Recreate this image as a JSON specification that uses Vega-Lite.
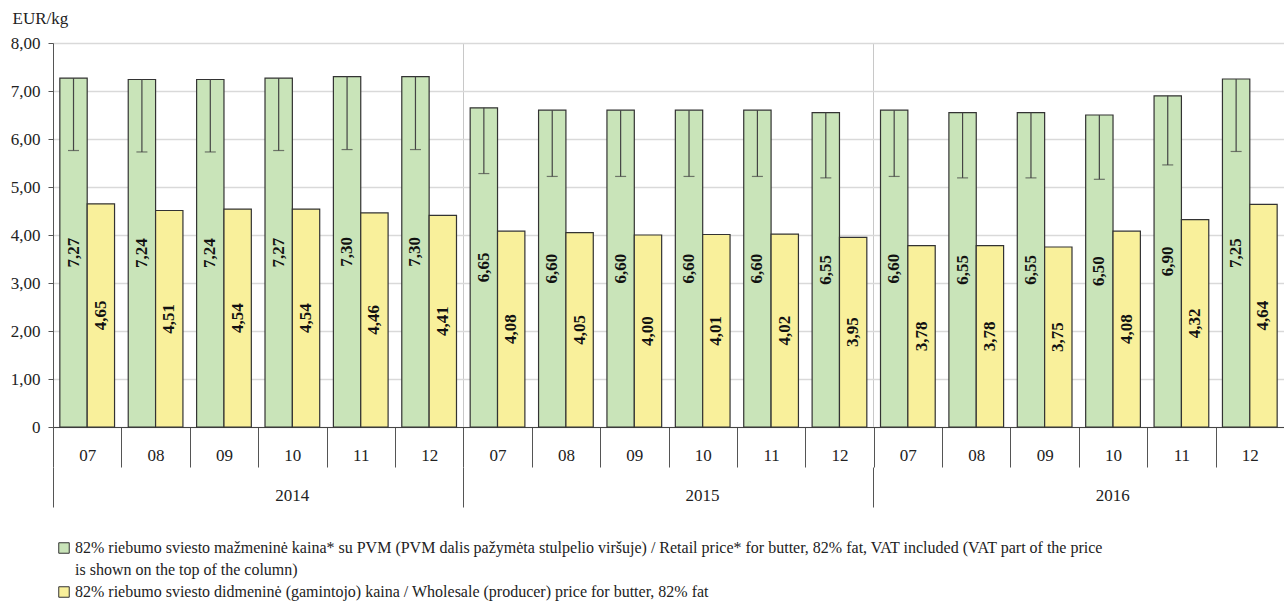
{
  "$schema": "https://vega.github.io/schema/vega-lite/v6.json",
  "width": 1231,
  "height": 384,
  "autosize": {"type": "none"},
  "padding": {"left": 53, "top": 43, "right": 0, "bottom": 177},
  "background": "white",
  "config": {
    "font": "Liberation Serif",
    "view": {"stroke": null},
    "locale": {"number": {"decimal": ",", "thousands": " ", "grouping": [3], "currency": ["", " €"]}}
  },
  "datasets": {
    "bars": [
      {"year": "2014", "period": "2014-07", "series": "retail", "price": 7.27},
      {"year": "2014", "period": "2014-08", "series": "retail", "price": 7.24},
      {"year": "2014", "period": "2014-09", "series": "retail", "price": 7.24},
      {"year": "2014", "period": "2014-10", "series": "retail", "price": 7.27},
      {"year": "2014", "period": "2014-11", "series": "retail", "price": 7.30},
      {"year": "2014", "period": "2014-12", "series": "retail", "price": 7.30},
      {"year": "2015", "period": "2015-07", "series": "retail", "price": 6.65},
      {"year": "2015", "period": "2015-08", "series": "retail", "price": 6.60},
      {"year": "2015", "period": "2015-09", "series": "retail", "price": 6.60},
      {"year": "2015", "period": "2015-10", "series": "retail", "price": 6.60},
      {"year": "2015", "period": "2015-11", "series": "retail", "price": 6.60},
      {"year": "2015", "period": "2015-12", "series": "retail", "price": 6.55},
      {"year": "2016", "period": "2016-07", "series": "retail", "price": 6.60},
      {"year": "2016", "period": "2016-08", "series": "retail", "price": 6.55},
      {"year": "2016", "period": "2016-09", "series": "retail", "price": 6.55},
      {"year": "2016", "period": "2016-10", "series": "retail", "price": 6.50},
      {"year": "2016", "period": "2016-11", "series": "retail", "price": 6.90},
      {"year": "2016", "period": "2016-12", "series": "retail", "price": 7.25},
      {"year": "2014", "period": "2014-07", "series": "wholesale", "price": 4.65},
      {"year": "2014", "period": "2014-08", "series": "wholesale", "price": 4.51},
      {"year": "2014", "period": "2014-09", "series": "wholesale", "price": 4.54},
      {"year": "2014", "period": "2014-10", "series": "wholesale", "price": 4.54},
      {"year": "2014", "period": "2014-11", "series": "wholesale", "price": 4.46},
      {"year": "2014", "period": "2014-12", "series": "wholesale", "price": 4.41},
      {"year": "2015", "period": "2015-07", "series": "wholesale", "price": 4.08},
      {"year": "2015", "period": "2015-08", "series": "wholesale", "price": 4.05},
      {"year": "2015", "period": "2015-09", "series": "wholesale", "price": 4.00},
      {"year": "2015", "period": "2015-10", "series": "wholesale", "price": 4.01},
      {"year": "2015", "period": "2015-11", "series": "wholesale", "price": 4.02},
      {"year": "2015", "period": "2015-12", "series": "wholesale", "price": 3.95},
      {"year": "2016", "period": "2016-07", "series": "wholesale", "price": 3.78},
      {"year": "2016", "period": "2016-08", "series": "wholesale", "price": 3.78},
      {"year": "2016", "period": "2016-09", "series": "wholesale", "price": 3.75},
      {"year": "2016", "period": "2016-10", "series": "wholesale", "price": 4.08},
      {"year": "2016", "period": "2016-11", "series": "wholesale", "price": 4.32},
      {"year": "2016", "period": "2016-12", "series": "wholesale", "price": 4.64}
    ],
    "vat": [
      {"period": "2014-07", "series": "retail", "top": 7.27, "low": 5.76},
      {"period": "2014-08", "series": "retail", "top": 7.24, "low": 5.73},
      {"period": "2014-09", "series": "retail", "top": 7.24, "low": 5.73},
      {"period": "2014-10", "series": "retail", "top": 7.27, "low": 5.76},
      {"period": "2014-11", "series": "retail", "top": 7.30, "low": 5.78},
      {"period": "2014-12", "series": "retail", "top": 7.30, "low": 5.78},
      {"period": "2015-07", "series": "retail", "top": 6.65, "low": 5.28},
      {"period": "2015-08", "series": "retail", "top": 6.60, "low": 5.22},
      {"period": "2015-09", "series": "retail", "top": 6.60, "low": 5.22},
      {"period": "2015-10", "series": "retail", "top": 6.60, "low": 5.22},
      {"period": "2015-11", "series": "retail", "top": 6.60, "low": 5.22},
      {"period": "2015-12", "series": "retail", "top": 6.55, "low": 5.19},
      {"period": "2016-07", "series": "retail", "top": 6.60, "low": 5.22},
      {"period": "2016-08", "series": "retail", "top": 6.55, "low": 5.19},
      {"period": "2016-09", "series": "retail", "top": 6.55, "low": 5.19},
      {"period": "2016-10", "series": "retail", "top": 6.50, "low": 5.16},
      {"period": "2016-11", "series": "retail", "top": 6.90, "low": 5.46},
      {"period": "2016-12", "series": "retail", "top": 7.25, "low": 5.74}
    ]
  },
  "layer": [
    {
      "data": {"name": "bars"},
      "mark": {"type": "bar", "stroke": "#333333", "strokeWidth": 1.2},
      "encoding": {
        "x": {
          "field": "period", "type": "nominal",
          "scale": {"paddingInner": 0, "paddingOuter": 0},
          "axis": {
            "orient": "bottom", "title": null, "labelAngle": 0,
            "labelExpr": "slice(datum.label + '', 5)",
            "tickBand": "extent", "tickSize": 40, "tickColor": "#555555", "tickWidth": 1,
            "domainColor": "#444444", "domainWidth": 1,
            "labelFont": "Liberation Serif", "labelFontSize": 17, "labelColor": "#222222",
            "labelBaseline": "middle", "labelPadding": -12, "grid": false
          }
        },
        "xOffset": {
          "field": "series", "type": "nominal",
          "scale": {"domain": ["retail", "wholesale"], "paddingOuter": 0.25, "paddingInner": 0}
        },
        "y": {
          "field": "price", "type": "quantitative", "stack": null,
          "scale": {"domain": [0, 8], "nice": false, "zero": true},
          "axis": {
            "title": "EUR/kg", "titleAngle": 0, "titleAlign": "left", "titleBaseline": "alphabetic",
            "titleX": -41, "titleY": -20, "titleFont": "Liberation Serif", "titleFontSize": 17, "titleFontWeight": "normal", "titleColor": "#222222",
            "values": [0, 1, 2, 3, 4, 5, 6, 7, 8], "format": ".2f",
            "labelExpr": "datum.value == 0 ? '0' : datum.label",
            "labelFont": "Liberation Serif", "labelFontSize": 17, "labelColor": "#222222", "labelPadding": 8,
            "tickSize": 5, "tickColor": "#555555", "domainColor": "#555555",
            "grid": true, "gridColor": "#d9d9d9", "gridWidth": 1.5
          }
        },
        "color": {
          "field": "series", "type": "nominal",
          "scale": {"domain": ["retail", "retail2", "wholesale"], "range": ["#c9e4b9", "#ffffff", "#f9f09b"]},
          "legend": {
            "title": null, "orient": "none", "legendX": 3, "legendY": 497, "direction": "vertical",
            "symbolType": "square", "symbolSize": 110, "symbolStrokeColor": "#333333", "symbolStrokeWidth": 1,
            "labelFont": "Liberation Serif", "labelFontSize": 16, "labelColor": "#222222", "labelLimit": 1300,
            "labelOffset": 3, "rowPadding": 6,
            "labelExpr": "datum.value == 'retail' ? '82% riebumo sviesto mažmeninė kaina* su PVM (PVM dalis pažymėta stulpelio viršuje) / Retail price* for butter, 82% fat, VAT included (VAT part of the price' : datum.value == 'retail2' ? 'is shown on the top of the column)' : '82% riebumo sviesto didmeninė (gamintojo) kaina / Wholesale (producer) price for butter, 82% fat'",
            "encode": {
              "symbols": {"update": {"opacity": {"signal": "datum.value == 'retail2' ? 0 : 1"}}}
            }
          }
        }
      }
    },
    {
      "data": {"name": "vat"},
      "mark": {"type": "rule", "color": "#444444", "strokeWidth": 1.2},
      "encoding": {
        "x": {"field": "period", "type": "nominal", "axis": null},
        "xOffset": {"field": "series", "type": "nominal"},
        "y": {"field": "top", "type": "quantitative", "scale": {"domain": [0, 8], "nice": false}, "axis": null},
        "y2": {"field": "low"}
      }
    },
    {
      "data": {"name": "vat"},
      "mark": {"type": "tick", "color": "#444444", "size": 11, "thickness": 1.2},
      "encoding": {
        "x": {"field": "period", "type": "nominal", "axis": null},
        "xOffset": {"field": "series", "type": "nominal"},
        "y": {"field": "low", "type": "quantitative", "scale": {"domain": [0, 8], "nice": false}, "axis": null}
      }
    },
    {
      "data": {"name": "bars"},
      "mark": {"type": "text", "angle": 270, "align": "center", "baseline": "middle", "fontWeight": "bold", "fontSize": 17, "color": "#111111", "font": "Liberation Serif"},
      "encoding": {
        "x": {"field": "period", "type": "nominal", "axis": null},
        "xOffset": {"field": "series", "type": "nominal"},
        "y": {"field": "price", "type": "quantitative", "stack": null, "scale": {"domain": [0, 16], "nice": false}, "axis": null},
        "text": {"field": "price", "type": "quantitative", "format": ".2f"}
      }
    },
    {
      "data": {"name": "bars"},
      "mark": {"type": "text", "text": ""},
      "encoding": {
        "x": {
          "field": "period", "type": "nominal",
          "axis": {
            "orient": "bottom", "offset": 40, "title": null, "labelAngle": 0,
            "values": ["2014-07", "2015-07", "2016-07"], "bandPosition": 0,
            "labelExpr": "slice(datum.label + '', 0, 4)", "labelOffset": 205,
            "domain": false, "tickSize": 40, "tickColor": "#555555", "tickWidth": 1,
            "labelFont": "Liberation Serif", "labelFontSize": 17, "labelColor": "#222222", "labelBaseline": "middle", "labelPadding": -12,
            "grid": true, "gridColor": "#c8c8c8", "gridWidth": 1
          }
        }
      }
    }
  ],
  "resolve": {
    "scale": {"y": "independent"},
    "axis": {"x": "independent", "y": "independent"}
  }
}
